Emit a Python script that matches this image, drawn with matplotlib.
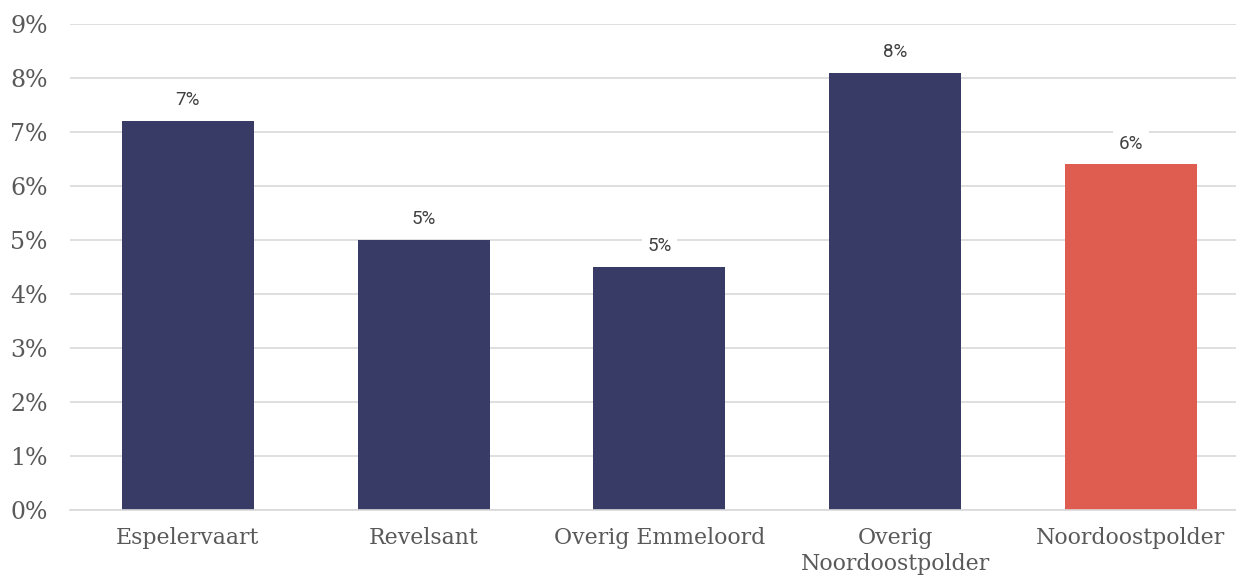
import numpy as np
import matplotlib
matplotlib.use('Agg')
import matplotlib.pyplot as plt

categories = ['Espelervaart', 'Revelsant', 'Overig Emmeloord', 'Overig\nNoordoostpolder', 'Noordoostpolder']
values = [0.072, 0.050, 0.045, 0.081, 0.064]
bar_colors = ['#383B66', '#383B66', '#383B66', '#383B66', '#DE5C50']
yticks = np.arange(0, 0.10, 0.01)

W, H = 1236, 581
fig = plt.figure(figsize=(W / 100, H / 100), dpi=100)
# axes spans 70..1249 px horizontally (right part cut off by figure edge)
ax = fig.add_axes([70 / W, (H - 510) / H, 1166 / W, (510 - 24) / H])

x = np.arange(len(categories))
ax.bar(x, values, width=0.56, color=bar_colors, zorder=3)

ax.set_xlim(-0.5, -0.5 + 1166 / 235.75)
ax.set_ylim(0, 0.09)
ax.set_yticks(yticks)
ax.set_yticklabels([f'{int(round(t * 100))}%' for t in yticks])
ax.set_xticks(x)
ax.set_xticklabels(categories, linespacing=1.25)

serif = ['DejaVu Serif']
for lab in ax.get_yticklabels():
    lab.set_family(serif)
    lab.set_color('#595959')
    lab.set_fontsize(17)
for lab in ax.get_xticklabels():
    lab.set_family(serif)
    lab.set_color('#595959')
    lab.set_fontsize(15.8)

ax.tick_params(axis='both', length=0)
ax.tick_params(axis='y', pad=16)
ax.tick_params(axis='x', pad=12)
ax.grid(axis='y', color='#D9D9D9', linewidth=1.2, zorder=0)
for s in ['top', 'right', 'left']:
    ax.spines[s].set_visible(False)
ax.spines['bottom'].set_color('#D9D9D9')
ax.spines['bottom'].set_linewidth(1.2)
ax.spines['bottom'].set_zorder(4)

for xi, v in zip(x, values):
    ax.annotate(f'{int(v * 100 + 0.5 + 1e-9)}%', (xi, v), xytext=(0, 15),
                textcoords='offset points', ha='center', va='center',
                fontsize=13.5, color='#404040', family='Roboto',
                bbox=dict(boxstyle='square,pad=0.3', fc='white', ec='none'),
                zorder=5)

fig.savefig('out.png', dpi=100)
